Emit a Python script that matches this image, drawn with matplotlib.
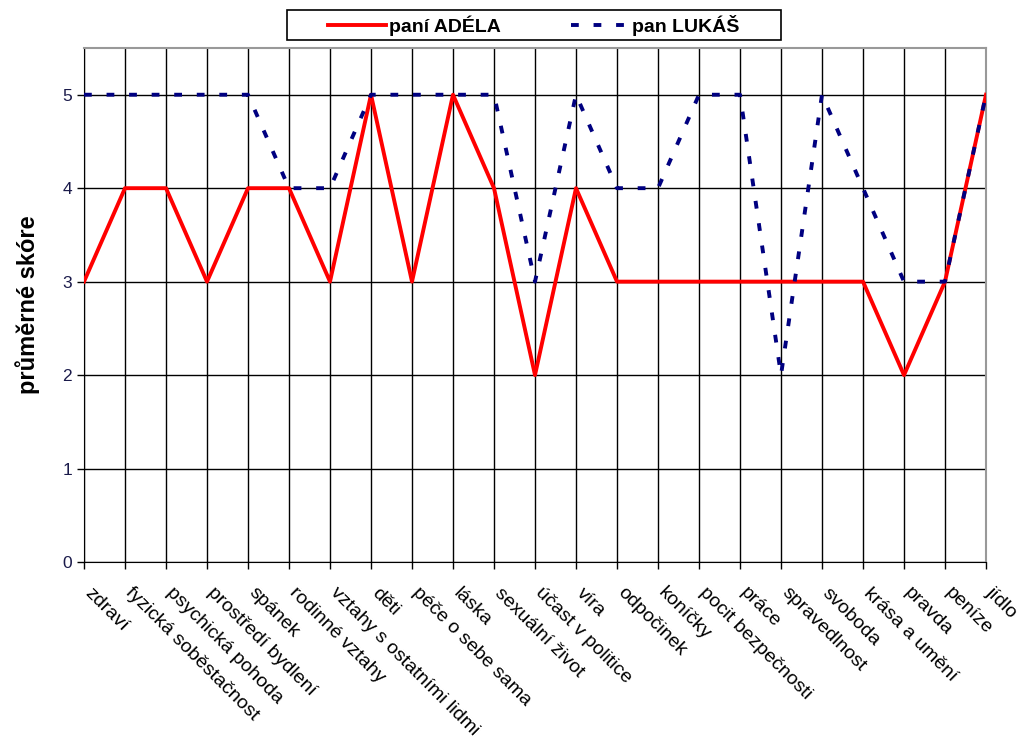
import matplotlib
matplotlib.use("Agg")
import matplotlib.pyplot as plt
import matplotlib.transforms as mtransforms
from matplotlib.patches import Rectangle

categories = [
    "zdraví", "fyzická soběstačnost", "psychická pohoda", "prostředí bydlení",
    "spánek", "rodinné vztahy", "vztahy s ostatními lidmi", "děti",
    "péče o sebe sama", "láska", "sexuální život", "účast v politice",
    "víra", "odpočinek", "koníčky", "pocit bezpečnosti", "práce",
    "spravedlnost", "svoboda", "krása a umění", "pravda", "peníze", "jídlo",
]
adela = [3, 4, 4, 3, 4, 4, 3, 5, 3, 5, 4, 2, 4, 3, 3, 3, 3, 3, 3, 3, 2, 3, 5]
lukas = [5, 5, 5, 5, 5, 4, 4, 5, 5, 5, 5, 3, 5, 4, 4, 5, 5, 2, 5, 4, 3, 3, 5]
y_ticks = [0, 1, 2, 3, 4, 5]

plt.rcParams["font.family"] = ["Liberation Sans", "DejaVu Sans"]

fig = plt.figure(figsize=(10.24, 7.42), dpi=100)
ax = fig.add_axes([84 / 1024, 1 - 562 / 742, 902 / 1024, 514 / 742])

x = list(range(len(categories)))
ax.plot(x, adela, color="#ff0000", linewidth=2.8, label="paní ADÉLA", zorder=3)
ax.plot(x, lukas, color="#000080", linewidth=2.8, linestyle=(0, (2.0, 3.8)),
        label="pan LUKÁŠ", zorder=4)

ax.set_xlim(0, len(categories) - 1)
ax.set_ylim(0, 5.5)
ax.set_yticks(y_ticks)
ax.set_xticks(x)
ax.set_xticklabels(categories, rotation=-45, ha="left", va="top",
                   rotation_mode="anchor", fontsize=14)
ax.tick_params(axis="x", length=5, width=1, direction="out", pad=9)
ax.tick_params(axis="y", length=5, width=1, direction="out", labelsize=12.5,
               labelcolor="#1a1a4a")

# nudge the slanted labels a bit right/down, as in the original
shift = mtransforms.ScaledTranslation(0.09, -0.03, fig.dpi_scale_trans)
for lbl in ax.get_xticklabels():
    lbl.set_transform(lbl.get_transform() + shift)

ax.grid(True, color="black", linewidth=1)
ax.set_axisbelow(True)

for side in ("top", "right"):
    ax.spines[side].set_color("#999999")
    ax.spines[side].set_linewidth(1.5)
ax.spines["left"].set_color("black")
ax.spines["bottom"].set_color("black")

ax.set_ylabel("průměrné skóre", fontsize=17, fontweight="bold", labelpad=16)

# legend box drawn separately so it can be wider than its contents
fig.patches.append(Rectangle((287 / 1024, 1 - 40 / 742), 494 / 1024, 30 / 742,
                             transform=fig.transFigure, fill=False,
                             edgecolor="black", linewidth=1.2))
fig.legend(loc="center", bbox_to_anchor=(534 / 1024, 1 - 25 / 742),
           ncol=2, frameon=False, prop={"size": 14, "weight": "bold"},
           handlelength=3.0, columnspacing=3.6, handletextpad=0.15,
           borderpad=0, borderaxespad=0)

fig.savefig("out.png", dpi=100)
